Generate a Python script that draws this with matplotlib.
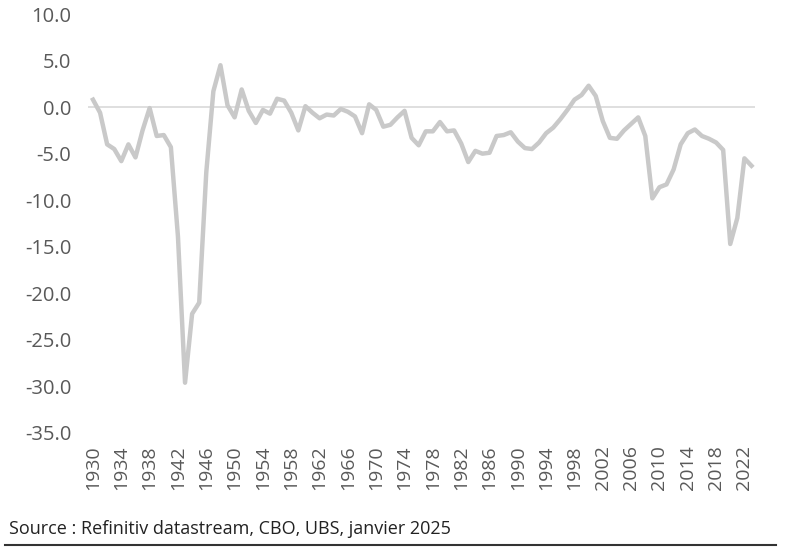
import matplotlib

matplotlib.use("Agg")
import matplotlib.pyplot as plt
from matplotlib.ticker import FormatStrFormatter

# US federal budget balance, % of GDP
years = list(range(1930, 2024))
balance = [
    0.8, -0.6, -4.0, -4.5, -5.8, -4.0, -5.4, -2.5, -0.1, -3.1,
    -3.0, -4.3, -13.9, -29.6, -22.2, -21.0, -7.0, 1.7, 4.5, 0.2,
    -1.1, 1.9, -0.4, -1.7, -0.3, -0.7, 0.9, 0.7, -0.6, -2.5,
    0.1, -0.6, -1.2, -0.8, -0.9, -0.2, -0.5, -1.0, -2.8, 0.3,
    -0.3, -2.1, -1.9, -1.1, -0.4, -3.3, -4.1, -2.6, -2.6, -1.6,
    -2.6, -2.5, -3.9, -5.9, -4.7, -5.0, -4.9, -3.1, -3.0, -2.7,
    -3.7, -4.4, -4.5, -3.8, -2.8, -2.2, -1.3, -0.3, 0.8, 1.3,
    2.3, 1.2, -1.5, -3.3, -3.4, -2.5, -1.8, -1.1, -3.1, -9.8,
    -8.6, -8.3, -6.7, -4.0, -2.8, -2.4, -3.1, -3.4, -3.8, -4.6,
    -14.7, -11.9, -5.5, -6.3,
]
y_ticks = [10, 5, 0, -5, -10, -15, -20, -25, -30, -35]
x_ticks = list(range(1930, 2023, 4))
source = "Source : Refinitiv datastream, CBO, UBS, janvier 2025"

plt.rcParams["font.family"] = ["Open Sans", "DejaVu Sans"]
plt.rcParams["axes.unicode_minus"] = False

fig = plt.figure(figsize=(7.86, 5.52), dpi=100)
ax = fig.add_axes([0.112, 0.2156, 0.8486, 0.759])

ax.axhline(0, color="#d9d9d9", linewidth=1.2, zorder=1)
ax.plot(years, balance, color="#c9c9c9", linewidth=3.2, solid_joinstyle="round", zorder=2)

ax.set_ylim(-35, 10)
ax.set_xlim(1929.3, 2023.5)
ax.set_yticks(y_ticks)
ax.yaxis.set_major_formatter(FormatStrFormatter("%.1f"))
ax.set_xticks(x_ticks)
ax.set_xticklabels([str(x) for x in x_ticks], rotation=90)
ax.tick_params(axis="both", length=0, colors="#595959")
ax.tick_params(axis="y", pad=12, labelsize=14.5)
ax.tick_params(axis="x", pad=9, labelsize=14)
for side in ax.spines.values():
    side.set_visible(False)

fig.text(0.012, 0.025, source, fontsize=13, color="#222222", va="bottom", ha="left")
fig.add_artist(plt.Line2D([0.006, 0.987], [0.013, 0.013], color="#333333", linewidth=1.5))

fig.savefig("out.png", dpi=100)
